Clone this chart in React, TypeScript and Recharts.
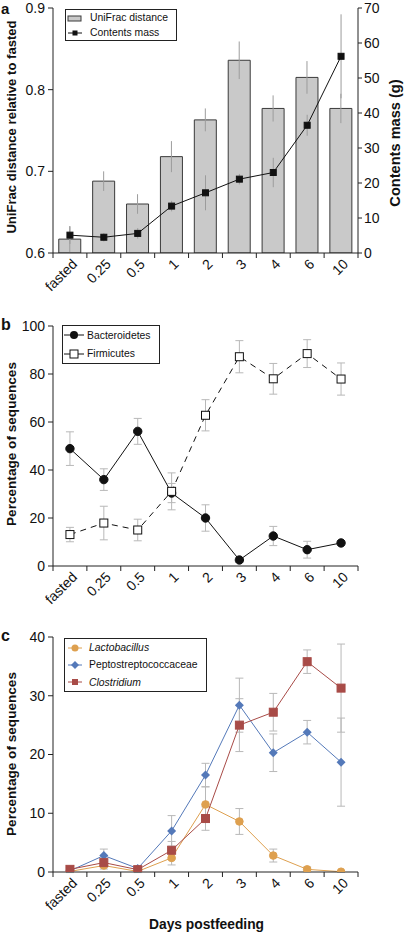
import React from 'react';
import { ComposedChart, Bar, Line, XAxis, YAxis, ErrorBar, Legend } from 'recharts';

const FONT = '"Liberation Sans", Arial, sans-serif';

const days = ['fasted', '0.25', '0.5', '1', '2', '3', '4', '6', '10'];

// a: UniFrac distance (bars, left axis) + contents mass (line, right axis)
const unifrac = [0.617, 0.688, 0.66, 0.718, 0.763, 0.836, 0.777, 0.815, 0.777];
const unifracErr = [0.016, 0.012, 0.012, 0.019, 0.014, 0.023, 0.016, 0.02, 0.018];
const mass = [5.1, 4.5, 5.6, 13.4, 17.2, 21.1, 23.0, 36.5, 56.2];
const massErr = [2.5, 1.2, 1.5, 1.5, 5, 1.5, 4.2, 3, 12];
const uniTicks = [0.6, 0.7, 0.8, 0.9];
const massTicks = [0, 10, 20, 30, 40, 50, 60, 70];

// b: phyla
const bacteroidetes = [48.9, 36.0, 56.1, 30.4, 20.0, 2.5, 12.5, 6.8, 9.6];
const bactErr = [7, 4.5, 5.4, 4, 5.5, 1, 4, 3.5, 1];
const firmicutes = [13.1, 17.9, 15.0, 31.1, 62.8, 87.2, 78.0, 88.5, 77.9];
const firmErr = [3, 7, 4.5, 7.7, 6.5, 6.7, 6.4, 5.8, 6.7];
const pctTicks = [0, 20, 40, 60, 80, 100];

// c: genera / families
const lacto = [0.1, 1.1, 0.1, 2.4, 11.5, 8.6, 2.8, 0.45, 0.05];
const lactoErr = [0.2, 0.6, 0.2, 1.2, 3, 2.2, 1.1, 0.4, 0.1];
const pepto = [0.2, 2.8, 0.6, 7.0, 16.5, 28.4, 20.3, 23.8, 18.7];
const peptoErr = [0.2, 1.1, 0.3, 2.6, 2.0, 4.6, 3.2, 2.0, 7.5];
const clostridium = [0.45, 1.6, 0.4, 3.7, 9.1, 25.0, 27.2, 35.8, 31.3];
const clostErr = [0.3, 0.8, 0.3, 1.5, 2.0, 4.5, 3.2, 2.0, 7.5];
const genTicks = [0, 10, 20, 30, 40];

const ORANGE = '#dea04f';
const BLUE = '#5479b9';
const RED = '#a84b47';
const ERR_GREY = '#b8b8b8';

const panelA = days.map((day, i) => ({ day, unifrac: unifrac[i], unifracErr: unifracErr[i], mass: mass[i], massErr: massErr[i] }));
const panelB = days.map((day, i) => ({ day, bact: bacteroidetes[i], bactErr: bactErr[i], firm: firmicutes[i], firmErr: firmErr[i] }));
const panelC = days.map((day, i) => ({
  day,
  lacto: lacto[i], lactoErr: lactoErr[i],
  pepto: pepto[i], peptoErr: peptoErr[i],
  clost: clostridium[i], clostErr: clostErr[i],
}));

const tickStyle = { fontSize: 14, fill: '#111', fontFamily: FONT };

// category labels rotated -45, tick marks at the category boundaries
function DayTick(props: any) {
  const { x, y, payload, width, index } = props;
  const half = (width || 305) / days.length / 2;
  const last = index === days.length - 1;
  return (
    <g>
      <line x1={x - half} x2={x - half} y1={y} y2={y + 5} stroke="#222" />
      {last && <line x1={x + half} x2={x + half} y1={y} y2={y + 5} stroke="#222" />}
      <text
        x={x + 8}
        y={y + 12}
        transform={`rotate(-45 ${x + 8} ${y + 12})`}
        textAnchor="end"
        fontSize={14}
        fill="#111"
        fontFamily={FONT}
      >
        {payload.value}
      </text>
    </g>
  );
}

const squareDot = (size: number, fill: string, stroke: string) => (p: any) => {
  if (p.cx == null || p.cy == null) return <g key={`n${p.index}`} />;
  return (
    <rect key={`s${p.index}`} x={p.cx - size / 2} y={p.cy - size / 2} width={size} height={size} fill={fill} stroke={stroke} strokeWidth={1} />
  );
};
const circleDot = (r: number, fill: string, stroke: string) => (p: any) => {
  if (p.cx == null || p.cy == null) return <g key={`n${p.index}`} />;
  return <circle key={`c${p.index}`} cx={p.cx} cy={p.cy} r={r} fill={fill} stroke={stroke} strokeWidth={1} />;
};
const diamondDot = (r: number, fill: string) => (p: any) => {
  if (p.cx == null || p.cy == null) return <g key={`n${p.index}`} />;
  const { cx, cy } = p;
  return <polygon key={`d${p.index}`} points={`${cx},${cy - r} ${cx + r},${cy} ${cx},${cy + r} ${cx - r},${cy}`} fill={fill} />;
};

interface LegendRow {
  label: string;
  italic?: boolean;
  icon: React.ReactNode;
}

function BoxLegend({ rows, rowH }: { rows: LegendRow[]; rowH: number }) {
  return (
    <div style={{ border: '1px solid #222', background: '#fff', fontFamily: FONT, fontSize: 10.4, color: '#111', paddingRight: 8 }}>
      {rows.map((r) => (
        <div key={r.label} style={{ display: 'flex', alignItems: 'center', height: rowH, whiteSpace: 'nowrap' }}>
          <svg width={22} height={12} style={{ marginLeft: 0, marginRight: 2, flex: 'none' }}>
            {r.icon}
          </svg>
          <span style={{ fontStyle: r.italic ? 'italic' : 'normal' }}>{r.label}</span>
        </div>
      ))}
    </div>
  );
}

const legendA: LegendRow[] = [
  { label: 'UniFrac distance', icon: <rect x={2} y={4} width={13} height={5} fill="#c9c9c9" stroke="#3a3a3a" /> },
  {
    label: 'Contents mass',
    icon: (
      <g>
        <line x1={2} x2={16} y1={6} y2={6} stroke="#111" />
        <rect x={6.5} y={3.5} width={5} height={5} fill="#111" />
      </g>
    ),
  },
];

const legendB: LegendRow[] = [
  {
    label: 'Bacteroidetes',
    icon: (
      <g>
        <line x1={1} x2={21} y1={6} y2={6} stroke="#111" />
        <circle cx={11} cy={6} r={4} fill="#111" />
      </g>
    ),
  },
  {
    label: 'Firmicutes',
    icon: (
      <g>
        <line x1={1} x2={21} y1={6} y2={6} stroke="#111" />
        <rect x={7} y={2} width={8} height={8} fill="#fff" stroke="#111" />
      </g>
    ),
  },
];

const legendC: LegendRow[] = [
  {
    label: 'Lactobacillus',
    italic: true,
    icon: (
      <g>
        <line x1={3} x2={17} y1={6} y2={6} stroke={ORANGE} />
        <circle cx={10} cy={6} r={3.5} fill={ORANGE} />
      </g>
    ),
  },
  {
    label: 'Peptostreptococcaceae',
    icon: (
      <g>
        <line x1={3} x2={17} y1={6} y2={6} stroke={BLUE} />
        <polygon points="10,2 14,6 10,10 6,6" fill={BLUE} />
      </g>
    ),
  },
  {
    label: 'Clostridium',
    italic: true,
    icon: (
      <g>
        <line x1={3} x2={17} y1={6} y2={6} stroke={RED} />
        <rect x={7} y={3} width={6} height={6} fill={RED} />
      </g>
    ),
  },
];

const xAxisProps = {
  dataKey: 'day',
  scale: 'band' as const,
  tickLine: false,
  tickSize: 0,
  tickMargin: 0,
  interval: 0,
  stroke: '#222',
  tick: <DayTick />,
};

export default function App() {
  return (
    <div style={{ position: 'absolute', left: 0, top: 0, width: 404, height: 933, background: '#fff', overflow: 'hidden' }}>
      <div style={{ position: 'absolute', left: 0, top: 0 }}>
        <ComposedChart width={404} height={310} data={panelA} margin={{ top: 8, right: 0, bottom: 0, left: 0 }} barCategoryGap="17%">
          <XAxis {...xAxisProps} height={57} />
          <YAxis
            yAxisId="uni"
            width={53}
            domain={[0.6, 0.9]}
            ticks={uniTicks}
            allowDataOverflow
            tickSize={5}
            tickMargin={3}
            tickFormatter={(v: number) => v.toFixed(1)}
            stroke="#222"
            tick={tickStyle}
          />
          <YAxis
            yAxisId="mass"
            orientation="right"
            width={46}
            domain={[0, 70]}
            ticks={massTicks}
            allowDataOverflow
            tickSize={4}
            tickMargin={2}
            stroke="#222"
            tick={tickStyle}
          />
          <Legend
            layout="vertical"
            align="center"
            verticalAlign="middle"
            wrapperStyle={{ left: 65, top: 9, width: 'auto' }}
            content={() => <BoxLegend rows={legendA} rowH={15} />}
          />
          <Bar yAxisId="uni" dataKey="unifrac" fill="#c9c9c9" stroke="#3a3a3a" strokeWidth={1} isAnimationActive={false}>
            <ErrorBar dataKey="unifracErr" width={0} stroke="#9c9c9c" strokeWidth={1} direction="y" />
          </Bar>
          <Line
            yAxisId="mass"
            type="linear"
            dataKey="mass"
            stroke="#111"
            strokeWidth={1}
            dot={squareDot(6, '#111', '#111')}
            isAnimationActive={false}
          >
            <ErrorBar dataKey="massErr" width={0} stroke="#9c9c9c" strokeWidth={1} direction="y" />
          </Line>
        </ComposedChart>
      </div>

      <div style={{ position: 'absolute', left: 0, top: 310 }}>
        <ComposedChart width={404} height={300} data={panelB} margin={{ top: 16, right: 46, bottom: 0, left: 0 }}>
          <XAxis {...xAxisProps} height={44} />
          <YAxis width={53} domain={[0, 100]} ticks={pctTicks} allowDataOverflow tickSize={5} tickMargin={3} stroke="#222" tick={tickStyle} />
          <Legend
            layout="vertical"
            align="center"
            verticalAlign="middle"
            wrapperStyle={{ left: 62, top: 15, width: 'auto' }}
            content={() => <BoxLegend rows={legendB} rowH={18.5} />}
          />
          <Line
            type="linear"
            dataKey="bact"
            stroke="#111"
            strokeWidth={1}
            dot={circleDot(4.2, '#111', '#111')}
            isAnimationActive={false}
          >
            <ErrorBar dataKey="bactErr" width={4} stroke={ERR_GREY} strokeWidth={1} direction="y" />
          </Line>
          <Line
            type="linear"
            dataKey="firm"
            stroke="#111"
            strokeWidth={1}
            strokeDasharray="6 5"
            dot={squareDot(8, '#fff', '#111')}
            isAnimationActive={false}
          >
            <ErrorBar dataKey="firmErr" width={4} stroke={ERR_GREY} strokeWidth={1} direction="y" />
          </Line>
        </ComposedChart>
      </div>

      <div style={{ position: 'absolute', left: 0, top: 600 }}>
        <ComposedChart width={404} height={333} data={panelC} margin={{ top: 37, right: 46, bottom: 0, left: 0 }}>
          <XAxis {...xAxisProps} height={61} />
          <YAxis width={53} domain={[0, 40]} ticks={genTicks} allowDataOverflow tickSize={5} tickMargin={3} stroke="#222" tick={tickStyle} />
          <Legend
            layout="vertical"
            align="center"
            verticalAlign="middle"
            wrapperStyle={{ left: 64, top: 38, width: 'auto' }}
            content={() => <BoxLegend rows={legendC} rowH={17.3} />}
          />
          <Line type="linear" dataKey="lacto" stroke={ORANGE} strokeWidth={1} dot={circleDot(3.8, ORANGE, ORANGE)} isAnimationActive={false}>
            <ErrorBar dataKey="lactoErr" width={4} stroke={ERR_GREY} strokeWidth={1} direction="y" />
          </Line>
          <Line type="linear" dataKey="pepto" stroke={BLUE} strokeWidth={1} dot={diamondDot(4.5, BLUE)} isAnimationActive={false}>
            <ErrorBar dataKey="peptoErr" width={4} stroke={ERR_GREY} strokeWidth={1} direction="y" />
          </Line>
          <Line type="linear" dataKey="clost" stroke={RED} strokeWidth={1} dot={squareDot(8, RED, RED)} isAnimationActive={false}>
            <ErrorBar dataKey="clostErr" width={4} stroke={ERR_GREY} strokeWidth={1} direction="y" />
          </Line>
        </ComposedChart>
      </div>

      {/* panel letters and axis titles */}
      <svg width={404} height={933} style={{ position: 'absolute', left: 0, top: 0, pointerEvents: 'none' }} fontFamily={FONT} fontWeight="bold" fill="#111">
        <text x={1} y={14} fontSize={15}>a</text>
        <text x={1} y={330} fontSize={16}>b</text>
        <text x={1} y={641} fontSize={16}>c</text>
        <text x={16} y={127} fontSize={13.1} textAnchor="middle" transform="rotate(-90 16 127)">UniFrac distance relative to fasted</text>
        <text x={400} y={143} fontSize={14.6} textAnchor="middle" transform="rotate(-90 400 143)">Contents mass (g)</text>
        <text x={16} y={444} fontSize={13.6} textAnchor="middle" transform="rotate(-90 16 444)">Percentage of sequences</text>
        <text x={16} y={754} fontSize={13.6} textAnchor="middle" transform="rotate(-90 16 754)">Percentage of sequences</text>
        <text x={206.5} y={929} fontSize={13.8} textAnchor="middle">Days postfeeding</text>
      </svg>
    </div>
  );
}
